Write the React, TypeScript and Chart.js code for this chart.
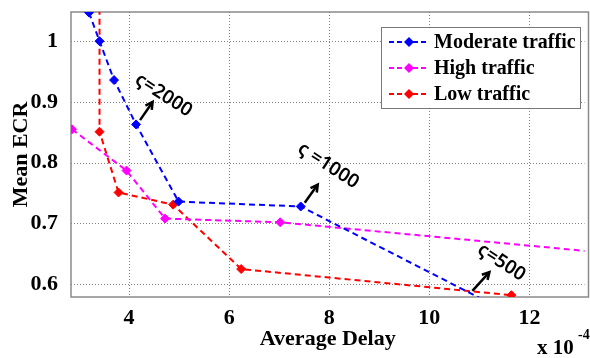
import React, { useEffect, useRef } from "react";
import { Chart, registerables } from "chart.js";

Chart.register(...registerables);

const moderateX = [3.2, 3.41, 3.7, 4.14, 4.99, 7.43, 11.3];
const moderateY = [1.047, 1.0, 0.936, 0.863, 0.736, 0.728, 0.565];
const highX = [2.86, 3.95, 4.72, 7.02, 14.0];
const highY = [0.855, 0.787, 0.708, 0.702, 0.648];
const lowX = [3.41, 3.41, 3.79, 4.88, 6.24, 11.64];
const lowY = [1.3, 0.851, 0.751, 0.731, 0.625, 0.582];

const xTicks = [4, 6, 8, 10, 12];
const yTicks = [0.6, 0.7, 0.8, 0.9, 1.0];

const seriesNames = ["Moderate traffic", "High traffic", "Low traffic"];
const seriesColors = ["#0000ff", "#ff00ff", "#ff0000"];

// annotation: label, text center (x,y), arrow tail (x,y), arrow head (x,y) in data units
const annLabels = ["ς=2000", "ς =1000", "ς=500"];
const annTextX = [4.69, 7.98, 11.44];
const annTextY = [0.911, 0.795, 0.636];
const annTailX = [4.22, 7.51, 10.86];
const annTailY = [0.87, 0.734, 0.589];
const annHeadX = [4.47, 7.77, 11.2];
const annHeadY = [0.9, 0.764, 0.62];

const toPts = (xs: number[], ys: number[]) => xs.map((x, i) => ({ x, y: ys[i] }));

const SERIF = '"Liberation Serif", "Times New Roman", serif';

const decorPlugin = {
  id: "decor",
  beforeDatasetsDraw(chart: any) {
    const { ctx, chartArea: a, scales } = chart;
    ctx.save();
    ctx.strokeStyle = "#808080";
    ctx.lineWidth = 1;
    ctx.setLineDash([1, 2]);
    for (const v of xTicks) {
      const px = Math.round(scales.x.getPixelForValue(v)) + 0.5;
      ctx.beginPath();
      ctx.moveTo(px, a.top);
      ctx.lineTo(px, a.bottom);
      ctx.stroke();
    }
    for (const v of yTicks) {
      const py = Math.round(scales.y.getPixelForValue(v)) + 0.5;
      ctx.beginPath();
      ctx.moveTo(a.left, py);
      ctx.lineTo(a.right, py);
      ctx.stroke();
    }
    ctx.setLineDash([]);
    ctx.strokeStyle = "#8a8a8a";
    ctx.lineWidth = 1.5;
    ctx.strokeRect(Math.round(a.left), Math.round(a.top), a.right - a.left + 4, Math.round(a.bottom - a.top));
    ctx.restore();
  },
  afterDraw(chart: any) {
    const { ctx, chartArea: a, scales } = chart;
    const xs = scales.x;
    const ys = scales.y;
    ctx.save();
    // annotations
    for (let i = 0; i < annLabels.length; i++) {
      const tx = xs.getPixelForValue(annTextX[i]);
      const ty = ys.getPixelForValue(annTextY[i]);
      ctx.save();
      ctx.translate(tx, ty);
      ctx.rotate((33 * Math.PI) / 180);
      ctx.fillStyle = "#000";
      ctx.font = '600 19px "Noto Sans", "DejaVu Sans", sans-serif';
      ctx.textAlign = "center";
      ctx.textBaseline = "middle";
      ctx.fillText(annLabels[i], 0, 0);
      ctx.restore();
      const x1 = xs.getPixelForValue(annTailX[i]);
      const y1 = ys.getPixelForValue(annTailY[i]);
      const x2 = xs.getPixelForValue(annHeadX[i]);
      const y2 = ys.getPixelForValue(annHeadY[i]);
      const ang = Math.atan2(y2 - y1, x2 - x1);
      ctx.strokeStyle = "#000";
      ctx.lineWidth = 2.5;
      ctx.beginPath();
      ctx.moveTo(x1, y1);
      ctx.lineTo(x2, y2);
      ctx.stroke();
      ctx.beginPath();
      const h = 8;
      ctx.moveTo(x2 - h * Math.cos(ang - 0.5), y2 - h * Math.sin(ang - 0.5));
      ctx.lineTo(x2, y2);
      ctx.lineTo(x2 - h * Math.cos(ang + 0.5), y2 - h * Math.sin(ang + 0.5));
      ctx.stroke();
    }
    // legend
    const lx = Math.round(a.left) + 310;
    const ly = Math.round(a.top) + 15;
    const lw = 199;
    const lh = 81;
    ctx.fillStyle = "#fff";
    ctx.fillRect(lx, ly, lw, lh);
    ctx.strokeStyle = "#777";
    ctx.lineWidth = 1;
    ctx.strokeRect(lx + 0.5, ly + 0.5, lw, lh);
    for (let i = 0; i < seriesNames.length; i++) {
      const cy = ly + 15 + i * 26;
      ctx.strokeStyle = seriesColors[i];
      ctx.lineWidth = 2;
      ctx.setLineDash([5, 3]);
      ctx.beginPath();
      ctx.moveTo(lx + 8, cy);
      ctx.lineTo(lx + 47, cy);
      ctx.stroke();
      ctx.setLineDash([]);
      ctx.fillStyle = seriesColors[i];
      ctx.beginPath();
      ctx.moveTo(lx + 28, cy - 5);
      ctx.lineTo(lx + 33, cy);
      ctx.lineTo(lx + 28, cy + 5);
      ctx.lineTo(lx + 23, cy);
      ctx.closePath();
      ctx.fill();
      ctx.fillStyle = "#000";
      ctx.font = "bold 20px " + SERIF;
      ctx.textAlign = "left";
      ctx.textBaseline = "middle";
      ctx.fillText(seriesNames[i], lx + 53, cy + 1);
    }
    // x 10^-4
    ctx.fillStyle = "#000";
    ctx.textAlign = "left";
    ctx.textBaseline = "alphabetic";
    ctx.font = "bold 21px " + SERIF;
    ctx.fillText("x 10", 537, 354);
    ctx.font = "bold 14px " + SERIF;
    ctx.fillText("-4", 578, 339);
    ctx.restore();
  },
};

export default function App() {
  const ref = useRef<HTMLCanvasElement>(null);
  useEffect(() => {
    document.body.style.margin = "0";
    const datasets = [
      { x: moderateX, y: moderateY },
      { x: highX, y: highY },
      { x: lowX, y: lowY },
    ].map((s, i) => ({
      label: seriesNames[i],
      data: toPts(s.x, s.y),
      borderColor: seriesColors[i],
      backgroundColor: seriesColors[i],
      borderWidth: 2,
      borderDash: [6, 4],
      pointStyle: "rectRot" as const,
      pointRadius: 4.5,
      pointBorderWidth: 1,
      tension: 0,
    }));
    const chart = new Chart(ref.current!, {
      type: "line",
      data: { datasets },
      plugins: [decorPlugin],
      options: {
        animation: false,
        responsive: false,
        maintainAspectRatio: false,
        layout: { padding: { top: 12, right: 0, left: 0, bottom: 0 } },
        plugins: { legend: { display: false }, tooltip: { enabled: false } },
        scales: {
          x: {
            type: "linear",
            min: 2.84,
            max: 13.1,
            afterBuildTicks: (s: any) => {
              s.ticks = xTicks.map((v) => ({ value: v }));
            },
            afterFit: (s: any) => {
              s.height = 61;
              s.paddingLeft = 0;
              s.paddingRight = 0;
            },
            grid: { display: false },
            border: { display: false },
            ticks: {
              color: "#000",
              font: { family: SERIF, size: 22, weight: "bold" },
              padding: 0,
              maxRotation: 0,
            },
            title: {
              display: true,
              text: "Average Delay",
              color: "#000",
              font: { family: SERIF, size: 22, weight: "bold" },
              padding: { top: 0, bottom: 5 },
            },
          },
          y: {
            type: "linear",
            min: 0.579,
            max: 1.048,
            afterBuildTicks: (s: any) => {
              s.ticks = yTicks.map((v) => ({ value: v }));
            },
            afterFit: (s: any) => {
              s.width = 71;
              s.paddingTop = 0;
              s.paddingBottom = 0;
            },
            grid: { display: false },
            border: { display: false },
            ticks: {
              color: "#000",
              font: { family: SERIF, size: 22, weight: "bold" },
              padding: 5,
              callback: (v: any) => String(Number(v)),
            },
            title: {
              display: true,
              text: "Mean ECR",
              color: "#000",
              font: { family: SERIF, size: 22, weight: "bold" },
              padding: { top: 8, bottom: 0 },
            },
          },
        },
      } as any,
    });
    return () => chart.destroy();
  }, []);
  return (
    <div style={{ position: "fixed", left: 0, top: 0, width: 590, height: 358 }}>
      <canvas ref={ref} width={590} height={358} style={{ width: 590, height: 358 }} />
    </div>
  );
}
